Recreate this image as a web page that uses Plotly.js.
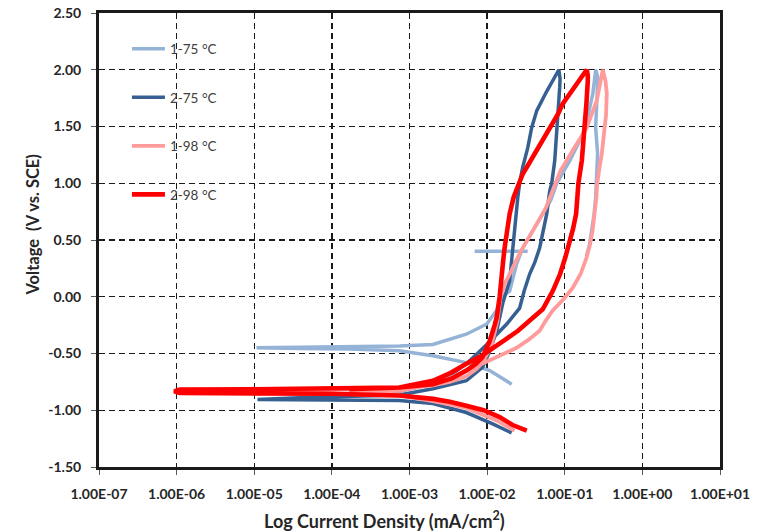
<!DOCTYPE html>
<html>
<head>
<meta charset="utf-8">
<script src="https://cdn.plot.ly/plotly-3.0.1.min.js"></script>
<style>html,body{margin:0;padding:0;background:#fff;}#chart{width:761px;height:532px;}</style>
</head>
<body>
<div id="chart"></div>
<script>
// Series names
const seriesNames = ['1-75 °C', '2-75 °C', '1-98 °C', '2-98 °C'];

// 1-75 °C : current density (mA/cm2) and voltage (V vs. SCE)
const cur_1_75 = [2.07e-2, 1.58e-2, 1.08e-2, 5.4e-3, 2.0e-3, 7.4e-4, 1.68e-4, 3.8e-5, 1.07e-5, 3.8e-5, 1.68e-4, 7.4e-4, 2.0e-3, 5.4e-3, 9.9e-3, 1.33e-2, 1.54e-2, 1.95e-2, 2.40e-2, 2.87e-2, 4.36e-2, 6.6e-2, 7.9e-2, 0.116, 0.171, 0.200, 0.230, 0.251, 0.267, 0.262, 0.250, 0.265, 0.260, 0.255, 0.250, 0.238, 0.224, 0.207, 0.190, null, 6.9e-3, 3.33e-2];
const volt_1_75 = [-0.77, -0.72, -0.65, -0.58, -0.52, -0.475, -0.46, -0.455, -0.45, -0.445, -0.44, -0.435, -0.42, -0.33, -0.24, -0.12, 0.0, 0.05, 0.29, 0.43, 0.64, 0.85, 1.0, 1.2, 1.43, 1.6, 1.79, 2.0, 1.93, 1.73, 1.49, 1.26, 1.1, 1.0, 0.87, 0.72, 0.58, 0.45, 0.36, null, 0.40, 0.40];

// 2-75 °C
const cur_2_75 = [2.07e-2, 1.18e-2, 5.4e-3, 2.0e-3, 7.4e-4, 1.68e-4, 3.8e-5, 1.1e-5, 3.8e-5, 7.4e-4, 2.0e-3, 5.4e-3, 8.75e-3, 1.08e-2, 1.33e-2, 1.6e-2, 1.95e-2, 2.13e-2, 2.48e-2, 2.62e-2, 2.87e-2, 3.33e-2, 3.75e-2, 4.36e-2, 5.86e-2, 8.4e-2, 8.7e-2, 8.6e-2, 8.2e-2, 7.9e-2, 7.43e-2, 6.8e-2, 6.4e-2, 5.86e-2, 5.2e-2, 4.75e-2, 4.1e-2, 3.53e-2, 3.0e-2, 2.62e-2, 1.79e-2, 1.35e-2, 9.9e-3, 7.5e-3, 5.4e-3, 3.7e-3, 2.45e-3, 1.2e-3, 7.4e-4, 2.26e-4];
const volt_2_75 = [-1.20, -1.12, -1.02, -0.94, -0.915, -0.91, -0.91, -0.905, -0.89, -0.865, -0.81, -0.74, -0.62, -0.48, -0.30, -0.05, 0.14, 0.43, 0.87, 1.0, 1.14, 1.31, 1.49, 1.64, 1.81, 2.0, 1.92, 1.84, 1.65, 1.49, 1.2, 1.0, 0.93, 0.73, 0.55, 0.43, 0.3, 0.2, 0.05, -0.1, -0.24, -0.33, -0.42, -0.5, -0.59, -0.67, -0.74, -0.80, -0.83, -0.845];

// 1-98 °C
const cur_1_98 = [2.26e-2, 1.33e-2, 5.4e-3, 2.0e-3, 7.4e-4, 3.8e-5, 1.95e-6, 1.25e-6, 1.95e-6, 3.8e-5, 7.4e-4, 2.0e-3, 3.3e-3, 5.4e-3, 7.2e-3, 8.75e-3, 1.14e-2, 1.36e-2, 1.49e-2, 1.7e-2, 1.95e-2, 2.62e-2, 3.86e-2, 5.7e-2, 7.4e-2, 8.8e-2, 0.127, 0.192, 0.259, 0.290, 0.309, 0.335, 0.348, 0.340, 0.328, 0.300, 0.275, 0.262, 0.255, 0.243, 0.228, 0.210, 0.190, 0.160, 0.127, 9.7e-2, 7.0e-2, 5.7e-2, 4.75e-2, 3.4e-2, 2.4e-2, 1.08e-2, 5.4e-3, 3.2e-3, 2.0e-3, 7.4e-4, 1.68e-4];
const volt_1_98 = [-1.18, -1.09, -0.98, -0.92, -0.87, -0.845, -0.84, -0.84, -0.82, -0.82, -0.81, -0.78, -0.75, -0.70, -0.64, -0.58, -0.43, -0.21, 0.0, 0.12, 0.2, 0.38, 0.58, 0.78, 0.98, 1.11, 1.29, 1.49, 1.73, 1.88, 2.0, 1.9, 1.79, 1.6, 1.49, 1.26, 1.1, 1.0, 0.87, 0.72, 0.58, 0.45, 0.34, 0.2, 0.08, -0.02, -0.12, -0.21, -0.30, -0.38, -0.45, -0.56, -0.65, -0.72, -0.77, -0.83, -0.845];

// 2-98 °C
const cur_2_98 = [3.24e-2, 2.6e-2, 2.13e-2, 1.45e-2, 9.0e-3, 5.4e-3, 3.3e-3, 2.0e-3, 7.4e-4, 1.0e-4, 1.0e-5, 1.1e-6, 9.3e-7, 1.1e-6, 8.6e-6, 1.68e-4, 7.4e-4, 2.0e-3, 3.5e-3, 5.4e-3, 7.2e-3, 8.75e-3, 1.08e-2, 1.25e-2, 1.33e-2, 1.45e-2, 1.54e-2, 1.6e-2, 1.68e-2, 1.8e-2, 1.95e-2, 2.2e-2, 2.62e-2, 2.87e-2, 3.3e-2, 3.86e-2, 4.5e-2, 5.2e-2, 6.0e-2, 7.0e-2, 8.2e-2, 9.4e-2, 0.116, 0.135, 0.156, 0.175, 0.192, 0.198, 0.198, 0.190, 0.181, 0.166, 0.150, 0.145, 0.140, 0.128, 0.118, 0.102, 8.7e-2, 7.0e-2, 5.2e-2, 3.6e-2, 2.5e-2, 1.7e-2, 1.18e-2, 8.5e-3, 5.4e-3, 3.4e-3, 2.0e-3, 1.3e-3, 7.4e-4, 1.68e-4];
const volt_2_98 = [-1.18, -1.155, -1.13, -1.06, -1.0, -0.96, -0.925, -0.90, -0.87, -0.855, -0.85, -0.848, -0.834, -0.818, -0.815, -0.81, -0.80, -0.77, -0.72, -0.65, -0.59, -0.53, -0.39, -0.25, -0.18, 0.0, 0.14, 0.3, 0.43, 0.6, 0.73, 0.88, 1.02, 1.08, 1.15, 1.23, 1.30, 1.37, 1.44, 1.52, 1.61, 1.70, 1.79, 1.85, 1.90, 1.95, 2.0, 1.95, 1.90, 1.70, 1.49, 1.2, 1.0, 0.85, 0.73, 0.6, 0.5, 0.35, 0.2, 0.05, -0.11, -0.2, -0.30, -0.38, -0.45, -0.52, -0.59, -0.67, -0.74, -0.77, -0.80, -0.815];

// Axis ticks
const xTickVals = [1e-7, 1e-6, 1e-5, 1e-4, 1e-3, 1e-2, 1e-1, 1e0, 1e1];
const xTickText = ['1.00E-07', '1.00E-06', '1.00E-05', '1.00E-04', '1.00E-03', '1.00E-02', '1.00E-01', '1.00E+00', '1.00E+01'];
const yTickVals = [-1.5, -1.0, -0.5, 0.0, 0.5, 1.0, 1.5, 2.0, 2.5];
const yTickText = ['-1.50', '-1.00', '-0.50', '0.00', '0.50', '1.00', '1.50', '2.00', '2.50'];

const colors = ['#95B3D7', '#376092', '#FF9B9B', '#FF0000'];
const widths = [3.5, 3.5, 3.8, 4.6];
const xs = [cur_1_75, cur_2_75, cur_1_98, cur_2_98];
const ys = [volt_1_75, volt_2_75, volt_1_98, volt_2_98];

const traces = seriesNames.map((name, k) => ({
  type: 'scatter', mode: 'lines', name: name,
  x: xs[k], y: ys[k],
  legendgroup: 'g' + k,
  line: {color: colors[k], width: widths[k]},
  connectgaps: false,
  hoverinfo: 'skip'
}));

const FONT = 'Lato, "Open Sans", "Liberation Sans", sans-serif';
const axisCommon = {
  showgrid: true, gridcolor: '#1a1a1a', gridwidth: 1.3, griddash: '6px,4px',
  showline: true, linecolor: '#1a1a1a', linewidth: 3, mirror: true,
  ticks: 'outside', ticklen: 5, tickwidth: 1, tickcolor: '#595959',
  zeroline: false, tickmode: 'array',
  tickfont: {family: FONT, size: 14, color: '#262626', weight: 'bold'}
};

const layout = {
  width: 761, height: 532,
  margin: {l: 99, r: 41, t: 13, b: 65},
  paper_bgcolor: '#ffffff', plot_bgcolor: '#ffffff',
  showlegend: true,
  xaxis: Object.assign({}, axisCommon, {
    type: 'log', range: [-7, 1], tickvals: xTickVals, ticktext: xTickText, ticklabelstandoff: 7
  }),
  yaxis: Object.assign({}, axisCommon, {
    range: [-1.5, 2.5], tickvals: yTickVals, ticktext: yTickText, ticklabelstandoff: 7
  }),
  legend: {
    x: 0.045, y: 0.955, xanchor: 'left', yanchor: 'top',
    bgcolor: 'rgba(0,0,0,0)', borderwidth: 0,
    traceorder: 'grouped', tracegroupgap: 28, itemwidth: 33,
    font: {family: FONT, size: 13.5, color: '#404040'}
  },
  shapes: [{
    type: 'rect', layer: 'between', xref: 'paper', yref: 'paper',
    x0: 0.028, x1: 0.21, y0: 0.555, y1: 0.995,
    fillcolor: '#ffffff', line: {width: 0}
  }],
  annotations: [
    {text: 'Log Current Density (mA/cm<sup>2</sup>)', xref: 'paper', yref: 'paper',
     x: 0.46, y: -0.117, xanchor: 'center', yanchor: 'middle', showarrow: false,
     font: {family: FONT, size: 18, color: '#262626', weight: 'bold'}},
    {text: 'Voltage  (V vs. SCE)', xref: 'paper', yref: 'paper', textangle: -90,
     x: -0.107, y: 0.533, xanchor: 'center', yanchor: 'middle', showarrow: false,
     font: {family: FONT, size: 16.5, color: '#262626', weight: 'bold'}}
  ]
};

Plotly.newPlot('chart', traces, layout, {displayModeBar: false, staticPlot: true});
</script>
</body>
</html>
